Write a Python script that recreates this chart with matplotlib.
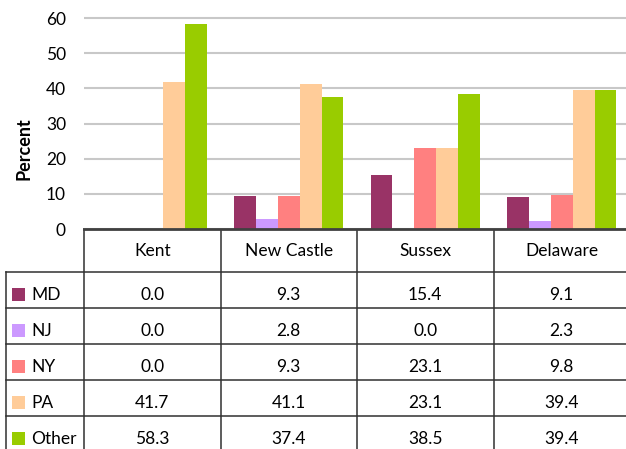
#!/usr/bin/env python3
import matplotlib
matplotlib.use("Agg")
import matplotlib.pyplot as plt
from matplotlib.patches import Rectangle

COUNTIES = ["Kent", "New Castle", "Sussex", "Delaware"]
STATES = ["MD", "NJ", "NY", "PA", "Other"]
MD = [0.0, 9.3, 15.4, 9.1]
NJ = [0.0, 2.8, 0.0, 2.3]
NY = [0.0, 9.3, 23.1, 9.8]
PA = [41.7, 41.1, 23.1, 39.4]
OTHER = [58.3, 37.4, 38.5, 39.4]
Y_TICKS = [0, 10, 20, 30, 40, 50, 60]

COLORS = ["#993366", "#CC99FF", "#FF8080", "#FFCC99", "#99CC00"]
FONT = "Lato"
FS = 12.5

W, H = 626, 449
# layout in pixels
X0, X1 = 84, 630          # plot / table data columns
Y_ZERO, Y_SIXTY = 229, 18
LEFT_COL = 6
HEADER_BOTTOM = 272
ROW_H = 36


def main():
    series = [MD, NJ, NY, PA, OTHER]
    fig = plt.figure(figsize=(W / 100, H / 100), dpi=100)
    plt.rcParams["font.family"] = [FONT, "DejaVu Sans"]

    px_per_unit = (Y_ZERO - Y_SIXTY) / 60.0
    top_val = 61.0
    ax_top = Y_ZERO - top_val * px_per_unit
    ax_h = Y_ZERO - ax_top
    ax = fig.add_axes([X0 / W, 1 - Y_ZERO / H, (X1 - X0) / W, ax_h / H])

    n = len(series)
    bw = 0.16
    for i, (vals, col) in enumerate(zip(series, COLORS)):
        xs = [g - (n - 1) / 2 * bw + i * bw for g in range(len(COUNTIES))]
        ax.bar(xs, vals, width=bw, color=col, linewidth=0, zorder=3)

    ax.set_xlim(-0.5, len(COUNTIES) - 0.5)
    ax.set_ylim(0, top_val)
    ax.set_yticks(Y_TICKS)
    ax.set_yticklabels([str(t) for t in Y_TICKS], fontsize=FS)
    ax.set_xticks([])
    ax.tick_params(axis="y", length=0, pad=13)
    ax.grid(True, axis="y", color="#C8C8C8", lw=1.5, zorder=0)
    for s in ["top", "right", "left"]:
        ax.spines[s].set_visible(False)
    ax.spines["bottom"].set_color("#404040")
    ax.spines["bottom"].set_linewidth(2)
    ax.spines["bottom"].set_zorder(5)
    ax.set_ylabel("Percent", fontsize=FS + 0.5, fontweight="bold")
    ax.yaxis.set_label_coords((33 - X0) / (X1 - X0), (Y_ZERO - 149) / ax_h)
    ax.patch.set_alpha(0)

    # data table below, drawn in pixel coordinates
    tab = fig.add_axes([0, 0, 1, 1], zorder=-1)
    tab.set_xlim(0, W)
    tab.set_ylim(H, 0)
    tab.axis("off")
    col_w = (X1 - X0) / len(COUNTIES)
    lc = "#303030"
    lw = 1.1
    bottom = H + 10

    for k in range(len(COUNTIES) + 1):
        x = X0 + k * col_w
        tab.plot([x, x], [Y_ZERO, bottom], color=lc, lw=lw)
    tab.plot([LEFT_COL, LEFT_COL], [HEADER_BOTTOM, bottom], color=lc, lw=lw)
    for r in range(len(STATES)):
        y = HEADER_BOTTOM + r * ROW_H
        tab.plot([LEFT_COL, X1], [y, y], color=lc, lw=lw)

    for k, name in enumerate(COUNTIES):
        tab.text(X0 + (k + 0.5) * col_w, (Y_ZERO + HEADER_BOTTOM) / 2 + 1, name,
                 ha="center", va="center", fontsize=FS)

    for r, (state, vals, col) in enumerate(zip(STATES, series, COLORS)):
        yc = HEADER_BOTTOM + r * ROW_H + 23
        tab.add_patch(Rectangle((12, yc - 7), 13, 13, color=col, lw=0))
        tab.text(31, yc, state, ha="left", va="center", fontsize=FS)
        for k, v in enumerate(vals):
            tab.text(X0 + (k + 0.5) * col_w, yc, f"{v:.1f}",
                     ha="center", va="center", fontsize=FS)

    fig.savefig("out.png", dpi=100)
    plt.close(fig)


if __name__ == "__main__":
    main()
